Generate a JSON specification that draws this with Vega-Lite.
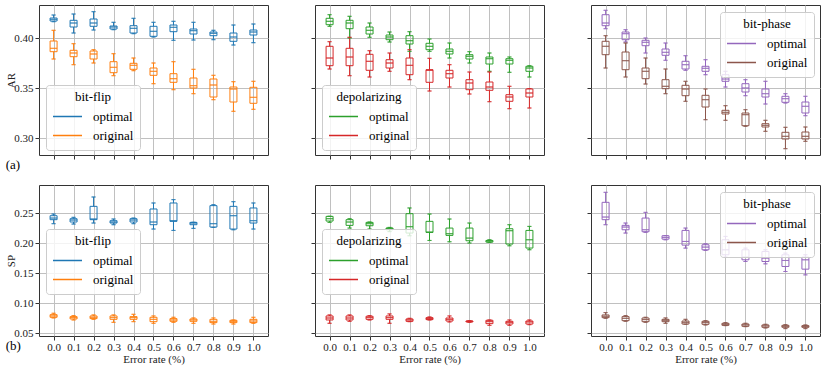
{
  "$schema": "https://vega.github.io/schema/vega-lite/v6.json",
  "padding": {"left": 5, "top": 4, "right": 5, "bottom": 5},
  "spacing": 12,
  "resolve": {"scale": {"stroke": "independent", "x": "independent", "y": "independent"}, "legend": {"stroke": "independent"}},
  "datasets": {
    "ar_bitflip": [
      {"series":"optimal","rate":0.0,"min":0.4163,"q1":0.417,"median":0.4187,"q3":0.420,"max":0.423},
      {"series":"optimal","rate":0.1,"min":0.405,"q1":0.411,"median":0.415,"q3":0.4177,"max":0.424},
      {"series":"optimal","rate":0.2,"min":0.408,"q1":0.4117,"median":0.415,"q3":0.419,"max":0.4263},
      {"series":"optimal","rate":0.3,"min":0.4083,"q1":0.409,"median":0.411,"q3":0.412,"max":0.4157},
      {"series":"optimal","rate":0.4,"min":0.4043,"q1":0.405,"median":0.4097,"q3":0.4123,"max":0.4197},
      {"series":"optimal","rate":0.5,"min":0.401,"q1":0.4017,"median":0.4067,"q3":0.4117,"max":0.4157},
      {"series":"optimal","rate":0.6,"min":0.3977,"q1":0.4063,"median":0.4107,"q3":0.413,"max":0.4167},
      {"series":"optimal","rate":0.7,"min":0.398,"q1":0.404,"median":0.4073,"q3":0.409,"max":0.4157},
      {"series":"optimal","rate":0.8,"min":0.3983,"q1":0.4023,"median":0.4047,"q3":0.406,"max":0.4077},
      {"series":"optimal","rate":0.9,"min":0.393,"q1":0.3967,"median":0.401,"q3":0.405,"max":0.413},
      {"series":"optimal","rate":1.0,"min":0.3953,"q1":0.403,"median":0.406,"q3":0.408,"max":0.414},
      {"series":"original","rate":0.0,"min":0.379,"q1":0.3863,"median":0.3897,"q3":0.397,"max":0.4077},
      {"series":"original","rate":0.1,"min":0.3733,"q1":0.3813,"median":0.385,"q3":0.3877,"max":0.3943},
      {"series":"original","rate":0.2,"min":0.375,"q1":0.379,"median":0.384,"q3":0.387,"max":0.3883},
      {"series":"original","rate":0.3,"min":0.3623,"q1":0.3653,"median":0.3707,"q3":0.3763,"max":0.3843},
      {"series":"original","rate":0.4,"min":0.3673,"q1":0.3687,"median":0.3727,"q3":0.3747,"max":0.38},
      {"series":"original","rate":0.5,"min":0.3543,"q1":0.3627,"median":0.3667,"q3":0.37,"max":0.375},
      {"series":"original","rate":0.6,"min":0.3483,"q1":0.3557,"median":0.3593,"q3":0.3643,"max":0.3763},
      {"series":"original","rate":0.7,"min":0.3443,"q1":0.35,"median":0.3523,"q3":0.36,"max":0.3687},
      {"series":"original","rate":0.8,"min":0.3383,"q1":0.341,"median":0.353,"q3":0.359,"max":0.3627},
      {"series":"original","rate":0.9,"min":0.3267,"q1":0.336,"median":0.349,"q3":0.351,"max":0.3563},
      {"series":"original","rate":1.0,"min":0.3287,"q1":0.3347,"median":0.3407,"q3":0.3507,"max":0.3567}
    ],
    "ar_depol": [
      {"series":"optimal","rate":0.0,"min":0.4117,"q1":0.4133,"median":0.4167,"q3":0.4197,"max":0.4233},
      {"series":"optimal","rate":0.1,"min":0.400,"q1":0.4093,"median":0.415,"q3":0.4177,"max":0.4217},
      {"series":"optimal","rate":0.2,"min":0.4007,"q1":0.404,"median":0.4077,"q3":0.411,"max":0.415},
      {"series":"optimal","rate":0.3,"min":0.396,"q1":0.3983,"median":0.401,"q3":0.403,"max":0.406},
      {"series":"optimal","rate":0.4,"min":0.3867,"q1":0.394,"median":0.3973,"q3":0.4023,"max":0.4063},
      {"series":"optimal","rate":0.5,"min":0.3867,"q1":0.3883,"median":0.3917,"q3":0.3947,"max":0.399},
      {"series":"optimal","rate":0.6,"min":0.38,"q1":0.384,"median":0.3867,"q3":0.389,"max":0.395},
      {"series":"optimal","rate":0.7,"min":0.375,"q1":0.379,"median":0.3817,"q3":0.3833,"max":0.3863},
      {"series":"optimal","rate":0.8,"min":0.3667,"q1":0.374,"median":0.3793,"q3":0.381,"max":0.385},
      {"series":"optimal","rate":0.9,"min":0.3657,"q1":0.374,"median":0.3777,"q3":0.3793,"max":0.381},
      {"series":"optimal","rate":1.0,"min":0.361,"q1":0.3667,"median":0.37,"q3":0.3717,"max":0.3723},
      {"series":"original","rate":0.0,"min":0.369,"q1":0.3723,"median":0.38,"q3":0.3917,"max":0.3963},
      {"series":"original","rate":0.1,"min":0.3623,"q1":0.3723,"median":0.381,"q3":0.3897,"max":0.4007},
      {"series":"original","rate":0.2,"min":0.361,"q1":0.3677,"median":0.3767,"q3":0.3837,"max":0.3873},
      {"series":"original","rate":0.3,"min":0.3667,"q1":0.37,"median":0.375,"q3":0.3783,"max":0.385},
      {"series":"original","rate":0.4,"min":0.3583,"q1":0.3633,"median":0.3727,"q3":0.38,"max":0.3883},
      {"series":"original","rate":0.5,"min":0.347,"q1":0.3557,"median":0.3677,"q3":0.3683,"max":0.3797},
      {"series":"original","rate":0.6,"min":0.351,"q1":0.36,"median":0.3643,"q3":0.3677,"max":0.3733},
      {"series":"original","rate":0.7,"min":0.344,"q1":0.3483,"median":0.355,"q3":0.3583,"max":0.366},
      {"series":"original","rate":0.8,"min":0.3363,"q1":0.3477,"median":0.351,"q3":0.356,"max":0.366},
      {"series":"original","rate":0.9,"min":0.3293,"q1":0.3367,"median":0.341,"q3":0.3433,"max":0.3517},
      {"series":"original","rate":1.0,"min":0.330,"q1":0.341,"median":0.345,"q3":0.349,"max":0.3495}
    ],
    "ar_bitphase": [
      {"series":"optimal","rate":0.0,"min":0.4093,"q1":0.4123,"median":0.415,"q3":0.4233,"max":0.4277},
      {"series":"optimal","rate":0.1,"min":0.396,"q1":0.3983,"median":0.4043,"q3":0.406,"max":0.4083},
      {"series":"optimal","rate":0.2,"min":0.385,"q1":0.3923,"median":0.3957,"q3":0.3977,"max":0.400},
      {"series":"optimal","rate":0.3,"min":0.3777,"q1":0.3827,"median":0.3857,"q3":0.389,"max":0.395},
      {"series":"optimal","rate":0.4,"min":0.3677,"q1":0.369,"median":0.3733,"q3":0.3767,"max":0.3823},
      {"series":"optimal","rate":0.5,"min":0.3633,"q1":0.3667,"median":0.3697,"q3":0.3717,"max":0.3783},
      {"series":"optimal","rate":0.6,"min":0.351,"q1":0.3567,"median":0.359,"q3":0.3633,"max":0.3667},
      {"series":"optimal","rate":0.7,"min":0.3423,"q1":0.346,"median":0.350,"q3":0.3543,"max":0.3583},
      {"series":"optimal","rate":0.8,"min":0.334,"q1":0.341,"median":0.3443,"q3":0.349,"max":0.3567},
      {"series":"optimal","rate":0.9,"min":0.335,"q1":0.3357,"median":0.3393,"q3":0.3417,"max":0.3443},
      {"series":"optimal","rate":1.0,"min":0.3223,"q1":0.325,"median":0.3317,"q3":0.336,"max":0.3417},
      {"series":"original","rate":0.0,"min":0.370,"q1":0.3833,"median":0.3917,"q3":0.3967,"max":0.4023},
      {"series":"original","rate":0.1,"min":0.361,"q1":0.3683,"median":0.3773,"q3":0.386,"max":0.395},
      {"series":"original","rate":0.2,"min":0.354,"q1":0.3593,"median":0.3667,"q3":0.370,"max":0.380},
      {"series":"original","rate":0.3,"min":0.3443,"q1":0.3493,"median":0.3517,"q3":0.3583,"max":0.369},
      {"series":"original","rate":0.4,"min":0.3367,"q1":0.3423,"median":0.349,"q3":0.3527,"max":0.3567},
      {"series":"original","rate":0.5,"min":0.3183,"q1":0.331,"median":0.3383,"q3":0.3427,"max":0.349},
      {"series":"original","rate":0.6,"min":0.3177,"q1":0.324,"median":0.3257,"q3":0.3277,"max":0.3323},
      {"series":"original","rate":0.7,"min":0.3117,"q1":0.3123,"median":0.3233,"q3":0.325,"max":0.3283},
      {"series":"original","rate":0.8,"min":0.3067,"q1":0.311,"median":0.3127,"q3":0.3143,"max":0.3177},
      {"series":"original","rate":0.9,"min":0.2893,"q1":0.299,"median":0.3017,"q3":0.3057,"max":0.3107},
      {"series":"original","rate":1.0,"min":0.2967,"q1":0.299,"median":0.3017,"q3":0.306,"max":0.311}
    ],
    "sp_bitflip": [
      {"series":"optimal","rate":0.0,"min":0.2322,"q1":0.2389,"median":0.2416,"q3":0.2455,"max":0.2483},
      {"series":"optimal","rate":0.1,"min":0.2316,"q1":0.235,"median":0.2383,"q3":0.2405,"max":0.2428},
      {"series":"optimal","rate":0.2,"min":0.2333,"q1":0.2389,"median":0.240,"q3":0.2611,"max":0.2767},
      {"series":"optimal","rate":0.3,"min":0.2305,"q1":0.2333,"median":0.235,"q3":0.2372,"max":0.240},
      {"series":"optimal","rate":0.4,"min":0.2322,"q1":0.235,"median":0.2383,"q3":0.2405,"max":0.2416},
      {"series":"optimal","rate":0.5,"min":0.2233,"q1":0.2305,"median":0.235,"q3":0.2567,"max":0.2667},
      {"series":"optimal","rate":0.6,"min":0.221,"q1":0.2361,"median":0.2372,"q3":0.2667,"max":0.2723},
      {"series":"optimal","rate":0.7,"min":0.2244,"q1":0.2305,"median":0.2333,"q3":0.2344,"max":0.2346},
      {"series":"optimal","rate":0.8,"min":0.226,"q1":0.2266,"median":0.2322,"q3":0.2623,"max":0.2639},
      {"series":"optimal","rate":0.9,"min":0.2221,"q1":0.2233,"median":0.2455,"q3":0.2611,"max":0.2689},
      {"series":"optimal","rate":1.0,"min":0.2233,"q1":0.2333,"median":0.2372,"q3":0.2584,"max":0.2667},
      {"series":"original","rate":0.0,"min":0.0751,"q1":0.0762,"median":0.0784,"q3":0.0806,"max":0.0829},
      {"series":"original","rate":0.1,"min":0.0717,"q1":0.0734,"median":0.0756,"q3":0.0773,"max":0.079},
      {"series":"original","rate":0.2,"min":0.0728,"q1":0.074,"median":0.0762,"q3":0.0784,"max":0.0801},
      {"series":"original","rate":0.3,"min":0.0678,"q1":0.0728,"median":0.0756,"q3":0.0784,"max":0.0801},
      {"series":"original","rate":0.4,"min":0.0689,"q1":0.0728,"median":0.0756,"q3":0.0773,"max":0.0812},
      {"series":"original","rate":0.5,"min":0.0662,"q1":0.0689,"median":0.0728,"q3":0.0762,"max":0.0784},
      {"series":"original","rate":0.6,"min":0.0678,"q1":0.0695,"median":0.0717,"q3":0.074,"max":0.0762},
      {"series":"original","rate":0.7,"min":0.0662,"q1":0.0695,"median":0.0717,"q3":0.0734,"max":0.0751},
      {"series":"original","rate":0.8,"min":0.065,"q1":0.0673,"median":0.0695,"q3":0.0728,"max":0.0751},
      {"series":"original","rate":0.9,"min":0.065,"q1":0.0673,"median":0.0695,"q3":0.0712,"max":0.0717},
      {"series":"original","rate":1.0,"min":0.0662,"q1":0.0673,"median":0.070,"q3":0.0728,"max":0.0762}
    ],
    "sp_depol": [
      {"series":"optimal","rate":0.0,"min":0.2344,"q1":0.2366,"median":0.2405,"q3":0.2444,"max":0.2446},
      {"series":"optimal","rate":0.1,"min":0.2249,"q1":0.2294,"median":0.235,"q3":0.2389,"max":0.2405},
      {"series":"optimal","rate":0.2,"min":0.2233,"q1":0.2288,"median":0.2322,"q3":0.2344,"max":0.235},
      {"series":"optimal","rate":0.3,"min":0.219,"q1":0.2221,"median":0.2244,"q3":0.2249,"max":0.226},
      {"series":"optimal","rate":0.4,"min":0.2121,"q1":0.2166,"median":0.2272,"q3":0.2489,"max":0.2584},
      {"series":"optimal","rate":0.5,"min":0.2043,"q1":0.2177,"median":0.2182,"q3":0.2361,"max":0.2483},
      {"series":"optimal","rate":0.6,"min":0.2021,"q1":0.2127,"median":0.2155,"q3":0.2249,"max":0.240},
      {"series":"optimal","rate":0.7,"min":0.200,"q1":0.2038,"median":0.2082,"q3":0.2249,"max":0.2333},
      {"series":"optimal","rate":0.8,"min":0.201,"q1":0.2015,"median":0.2032,"q3":0.2043,"max":0.2054},
      {"series":"optimal","rate":0.9,"min":0.1954,"q1":0.1982,"median":0.2205,"q3":0.2238,"max":0.2305},
      {"series":"optimal","rate":1.0,"min":0.1888,"q1":0.1916,"median":0.2054,"q3":0.221,"max":0.2277},
      {"series":"original","rate":0.0,"min":0.0662,"q1":0.0717,"median":0.075,"q3":0.0784,"max":0.0801},
      {"series":"original","rate":0.1,"min":0.0695,"q1":0.0717,"median":0.075,"q3":0.0784,"max":0.0801},
      {"series":"original","rate":0.2,"min":0.0717,"q1":0.0728,"median":0.0756,"q3":0.0779,"max":0.079},
      {"series":"original","rate":0.3,"min":0.0662,"q1":0.0728,"median":0.0756,"q3":0.0784,"max":0.0818},
      {"series":"original","rate":0.4,"min":0.0689,"q1":0.0695,"median":0.0717,"q3":0.0734,"max":0.0745},
      {"series":"original","rate":0.5,"min":0.0717,"q1":0.0723,"median":0.074,"q3":0.0756,"max":0.0767},
      {"series":"original","rate":0.6,"min":0.0684,"q1":0.070,"median":0.0728,"q3":0.075,"max":0.0784},
      {"series":"original","rate":0.7,"min":0.0678,"q1":0.0684,"median":0.0695,"q3":0.070,"max":0.0706},
      {"series":"original","rate":0.8,"min":0.0628,"q1":0.0656,"median":0.0689,"q3":0.0712,"max":0.0717},
      {"series":"original","rate":0.9,"min":0.0628,"q1":0.065,"median":0.0678,"q3":0.0695,"max":0.0717},
      {"series":"original","rate":1.0,"min":0.0639,"q1":0.065,"median":0.0684,"q3":0.070,"max":0.0717}
    ],
    "sp_bitphase": [
      {"series":"optimal","rate":0.0,"min":0.2305,"q1":0.2389,"median":0.2433,"q3":0.2678,"max":0.2845},
      {"series":"optimal","rate":0.1,"min":0.2166,"q1":0.2221,"median":0.2266,"q3":0.2294,"max":0.2333},
      {"series":"optimal","rate":0.2,"min":0.2177,"q1":0.2188,"median":0.2221,"q3":0.2416,"max":0.2511},
      {"series":"optimal","rate":0.3,"min":0.2054,"q1":0.2065,"median":0.2093,"q3":0.2121,"max":0.2123},
      {"series":"optimal","rate":0.4,"min":0.1915,"q1":0.1965,"median":0.2026,"q3":0.221,"max":0.2249},
      {"series":"optimal","rate":0.5,"min":0.1876,"q1":0.1887,"median":0.1932,"q3":0.1971,"max":0.1988},
      {"series":"optimal","rate":0.6,"min":0.1765,"q1":0.1804,"median":0.1887,"q3":0.2054,"max":0.211},
      {"series":"optimal","rate":0.7,"min":0.1692,"q1":0.172,"median":0.1765,"q3":0.1887,"max":0.1915},
      {"series":"optimal","rate":0.8,"min":0.1653,"q1":0.1692,"median":0.1748,"q3":0.1859,"max":0.1887},
      {"series":"optimal","rate":0.9,"min":0.1525,"q1":0.1609,"median":0.1709,"q3":0.1804,"max":0.1831},
      {"series":"optimal","rate":1.0,"min":0.1469,"q1":0.1564,"median":0.172,"q3":0.1765,"max":0.1804},
      {"series":"original","rate":0.0,"min":0.0745,"q1":0.0756,"median":0.0779,"q3":0.0801,"max":0.084},
      {"series":"original","rate":0.1,"min":0.0695,"q1":0.0706,"median":0.0745,"q3":0.0773,"max":0.079},
      {"series":"original","rate":0.2,"min":0.0678,"q1":0.0689,"median":0.0723,"q3":0.075,"max":0.0762},
      {"series":"original","rate":0.3,"min":0.0662,"q1":0.0689,"median":0.0712,"q3":0.0728,"max":0.0751},
      {"series":"original","rate":0.4,"min":0.0645,"q1":0.065,"median":0.0678,"q3":0.070,"max":0.0728},
      {"series":"original","rate":0.5,"min":0.0634,"q1":0.0645,"median":0.0673,"q3":0.0695,"max":0.0706},
      {"series":"original","rate":0.6,"min":0.0623,"q1":0.0628,"median":0.0645,"q3":0.0662,"max":0.0673},
      {"series":"original","rate":0.7,"min":0.0606,"q1":0.0612,"median":0.0634,"q3":0.065,"max":0.0662},
      {"series":"original","rate":0.8,"min":0.0584,"q1":0.0595,"median":0.0617,"q3":0.0634,"max":0.0645},
      {"series":"original","rate":0.9,"min":0.0573,"q1":0.0595,"median":0.0612,"q3":0.0628,"max":0.0639},
      {"series":"original","rate":1.0,"min":0.0573,"q1":0.0595,"median":0.0606,"q3":0.0623,"max":0.0634}
    ]
  },
  "vconcat": [
    {
      "hconcat": [
        {
          "width": 229, "height": 150,
          "data": {"name": "ar_bitflip"},
          "title": {"text": "(a)", "orient": "bottom", "anchor": "start", "offset": -1, "fontSize": 13, "fontWeight": "normal", "font": "Liberation Serif", "color": "#000"},
          "encoding": {
            "x": {"field": "rate", "type": "quantitative", "scale": {"domain": [-0.048, 1.048], "nice": false, "zero": false}, "axis": {"values": [0,0.1,0.2,0.3,0.4,0.5,0.6,0.7,0.8,0.9,1], "tickCount": 20, "labels": false, "title": null}},
            "stroke": {"field": "series", "type": "nominal", "scale": {"domain": ["optimal","original"], "range": ["#1f77b4","#ff7f0e"]}, "legend": {"title": "bit-flip", "orient": "none", "legendX": 7, "legendY": 80}}
          },
          "layer": [
            {"mark": {"type": "rule", "strokeWidth": 1}, "encoding": {"y": {"field": "min", "type": "quantitative", "scale": {"domain": [0.283, 0.433], "nice": false, "zero": false}, "axis": {"values": [0.30, 0.35, 0.40], "tickCount": 20, "format": ".2f", "title": "AR", "labelOverlap": false}}, "y2": {"field": "q1"}}},
            {"mark": {"type": "rule", "strokeWidth": 1}, "encoding": {"y": {"field": "q3", "type": "quantitative"}, "y2": {"field": "max"}}},
            {"mark": {"type": "bar", "filled": false, "size": 7, "strokeWidth": 1}, "encoding": {"y": {"field": "q1", "type": "quantitative"}, "y2": {"field": "q3"}}},
            {"mark": {"type": "tick", "orient": "horizontal", "size": 7, "thickness": 0, "filled": false, "strokeWidth": 1}, "encoding": {"y": {"field": "median", "type": "quantitative"}}},
            {"mark": {"type": "tick", "orient": "horizontal", "size": 4, "thickness": 0, "filled": false, "strokeWidth": 1}, "encoding": {"y": {"field": "min", "type": "quantitative"}}},
            {"mark": {"type": "tick", "orient": "horizontal", "size": 4, "thickness": 0, "filled": false, "strokeWidth": 1}, "encoding": {"y": {"field": "max", "type": "quantitative"}}}
          ]
        },
        {
          "width": 229, "height": 150,
          "data": {"name": "ar_depol"},
          "encoding": {
            "x": {"field": "rate", "type": "quantitative", "scale": {"domain": [-0.048, 1.048], "nice": false, "zero": false}, "axis": {"values": [0,0.1,0.2,0.3,0.4,0.5,0.6,0.7,0.8,0.9,1], "tickCount": 20, "labels": false, "title": null}},
            "stroke": {"field": "series", "type": "nominal", "scale": {"domain": ["optimal","original"], "range": ["#2ca02c","#d62728"]}, "legend": {"title": "depolarizing", "orient": "none", "legendX": 7, "legendY": 80}}
          },
          "layer": [
            {"mark": {"type": "rule", "strokeWidth": 1}, "encoding": {"y": {"field": "min", "type": "quantitative", "scale": {"domain": [0.283, 0.433], "nice": false, "zero": false}, "axis": {"values": [0.30, 0.35, 0.40], "tickCount": 20, "labels": false, "title": null}}, "y2": {"field": "q1"}}},
            {"mark": {"type": "rule", "strokeWidth": 1}, "encoding": {"y": {"field": "q3", "type": "quantitative"}, "y2": {"field": "max"}}},
            {"mark": {"type": "bar", "filled": false, "size": 7, "strokeWidth": 1}, "encoding": {"y": {"field": "q1", "type": "quantitative"}, "y2": {"field": "q3"}}},
            {"mark": {"type": "tick", "orient": "horizontal", "size": 7, "thickness": 0, "filled": false, "strokeWidth": 1}, "encoding": {"y": {"field": "median", "type": "quantitative"}}},
            {"mark": {"type": "tick", "orient": "horizontal", "size": 4, "thickness": 0, "filled": false, "strokeWidth": 1}, "encoding": {"y": {"field": "min", "type": "quantitative"}}},
            {"mark": {"type": "tick", "orient": "horizontal", "size": 4, "thickness": 0, "filled": false, "strokeWidth": 1}, "encoding": {"y": {"field": "max", "type": "quantitative"}}}
          ]
        },
        {
          "width": 229, "height": 150,
          "data": {"name": "ar_bitphase"},
          "encoding": {
            "x": {"field": "rate", "type": "quantitative", "scale": {"domain": [-0.048, 1.048], "nice": false, "zero": false}, "axis": {"values": [0,0.1,0.2,0.3,0.4,0.5,0.6,0.7,0.8,0.9,1], "tickCount": 20, "labels": false, "title": null}},
            "stroke": {"field": "series", "type": "nominal", "scale": {"domain": ["optimal","original"], "range": ["#9467bd","#8c564b"]}, "legend": {"title": "bit-phase", "orient": "none", "legendX": 129, "legendY": 7}}
          },
          "layer": [
            {"mark": {"type": "rule", "strokeWidth": 1}, "encoding": {"y": {"field": "min", "type": "quantitative", "scale": {"domain": [0.283, 0.433], "nice": false, "zero": false}, "axis": {"values": [0.30, 0.35, 0.40], "tickCount": 20, "labels": false, "title": null}}, "y2": {"field": "q1"}}},
            {"mark": {"type": "rule", "strokeWidth": 1}, "encoding": {"y": {"field": "q3", "type": "quantitative"}, "y2": {"field": "max"}}},
            {"mark": {"type": "bar", "filled": false, "size": 7, "strokeWidth": 1}, "encoding": {"y": {"field": "q1", "type": "quantitative"}, "y2": {"field": "q3"}}},
            {"mark": {"type": "tick", "orient": "horizontal", "size": 7, "thickness": 0, "filled": false, "strokeWidth": 1}, "encoding": {"y": {"field": "median", "type": "quantitative"}}},
            {"mark": {"type": "tick", "orient": "horizontal", "size": 4, "thickness": 0, "filled": false, "strokeWidth": 1}, "encoding": {"y": {"field": "min", "type": "quantitative"}}},
            {"mark": {"type": "tick", "orient": "horizontal", "size": 4, "thickness": 0, "filled": false, "strokeWidth": 1}, "encoding": {"y": {"field": "max", "type": "quantitative"}}}
          ]
        }
      ],
      "spacing": 47,
      "bounds": "flush",
      "resolve": {"scale": {"stroke": "independent", "x": "independent", "y": "independent"}, "legend": {"stroke": "independent"}}
    },
    {
      "hconcat": [
        {
          "width": 229, "height": 151,
          "data": {"name": "sp_bitflip"},
          "title": {"text": "(b)", "orient": "bottom", "anchor": "start", "offset": -24, "fontSize": 13, "fontWeight": "normal", "font": "Liberation Serif", "color": "#000"},
          "encoding": {
            "x": {"field": "rate", "type": "quantitative", "scale": {"domain": [-0.048, 1.048], "nice": false, "zero": false}, "axis": {"values": [0,0.1,0.2,0.3,0.4,0.5,0.6,0.7,0.8,0.9,1], "tickCount": 20, "format": ".1f", "title": "Error rate (%)", "labelOverlap": false}},
            "stroke": {"field": "series", "type": "nominal", "scale": {"domain": ["optimal","original"], "range": ["#1f77b4","#ff7f0e"]}, "legend": {"title": "bit-flip", "orient": "none", "legendX": 7, "legendY": 44}}
          },
          "layer": [
            {"mark": {"type": "rule", "strokeWidth": 1}, "encoding": {"y": {"field": "min", "type": "quantitative", "scale": {"domain": [0.045, 0.2967], "nice": false, "zero": false}, "axis": {"values": [0.05, 0.1, 0.15, 0.2, 0.25], "tickCount": 20, "format": ".2f", "title": "SP", "labelOverlap": false}}, "y2": {"field": "q1"}}},
            {"mark": {"type": "rule", "strokeWidth": 1}, "encoding": {"y": {"field": "q3", "type": "quantitative"}, "y2": {"field": "max"}}},
            {"mark": {"type": "bar", "filled": false, "size": 7, "strokeWidth": 1}, "encoding": {"y": {"field": "q1", "type": "quantitative"}, "y2": {"field": "q3"}}},
            {"mark": {"type": "tick", "orient": "horizontal", "size": 7, "thickness": 0, "filled": false, "strokeWidth": 1}, "encoding": {"y": {"field": "median", "type": "quantitative"}}},
            {"mark": {"type": "tick", "orient": "horizontal", "size": 4, "thickness": 0, "filled": false, "strokeWidth": 1}, "encoding": {"y": {"field": "min", "type": "quantitative"}}},
            {"mark": {"type": "tick", "orient": "horizontal", "size": 4, "thickness": 0, "filled": false, "strokeWidth": 1}, "encoding": {"y": {"field": "max", "type": "quantitative"}}}
          ]
        },
        {
          "width": 229, "height": 151,
          "data": {"name": "sp_depol"},
          "encoding": {
            "x": {"field": "rate", "type": "quantitative", "scale": {"domain": [-0.048, 1.048], "nice": false, "zero": false}, "axis": {"values": [0,0.1,0.2,0.3,0.4,0.5,0.6,0.7,0.8,0.9,1], "tickCount": 20, "format": ".1f", "title": "Error rate (%)", "labelOverlap": false}},
            "stroke": {"field": "series", "type": "nominal", "scale": {"domain": ["optimal","original"], "range": ["#2ca02c","#d62728"]}, "legend": {"title": "depolarizing", "orient": "none", "legendX": 7, "legendY": 44}}
          },
          "layer": [
            {"mark": {"type": "rule", "strokeWidth": 1}, "encoding": {"y": {"field": "min", "type": "quantitative", "scale": {"domain": [0.045, 0.2967], "nice": false, "zero": false}, "axis": {"values": [0.05, 0.1, 0.15, 0.2, 0.25], "tickCount": 20, "labels": false, "title": null}}, "y2": {"field": "q1"}}},
            {"mark": {"type": "rule", "strokeWidth": 1}, "encoding": {"y": {"field": "q3", "type": "quantitative"}, "y2": {"field": "max"}}},
            {"mark": {"type": "bar", "filled": false, "size": 7, "strokeWidth": 1}, "encoding": {"y": {"field": "q1", "type": "quantitative"}, "y2": {"field": "q3"}}},
            {"mark": {"type": "tick", "orient": "horizontal", "size": 7, "thickness": 0, "filled": false, "strokeWidth": 1}, "encoding": {"y": {"field": "median", "type": "quantitative"}}},
            {"mark": {"type": "tick", "orient": "horizontal", "size": 4, "thickness": 0, "filled": false, "strokeWidth": 1}, "encoding": {"y": {"field": "min", "type": "quantitative"}}},
            {"mark": {"type": "tick", "orient": "horizontal", "size": 4, "thickness": 0, "filled": false, "strokeWidth": 1}, "encoding": {"y": {"field": "max", "type": "quantitative"}}}
          ]
        },
        {
          "width": 229, "height": 151,
          "data": {"name": "sp_bitphase"},
          "encoding": {
            "x": {"field": "rate", "type": "quantitative", "scale": {"domain": [-0.048, 1.048], "nice": false, "zero": false}, "axis": {"values": [0,0.1,0.2,0.3,0.4,0.5,0.6,0.7,0.8,0.9,1], "tickCount": 20, "format": ".1f", "title": "Error rate (%)", "labelOverlap": false}},
            "stroke": {"field": "series", "type": "nominal", "scale": {"domain": ["optimal","original"], "range": ["#9467bd","#8c564b"]}, "legend": {"title": "bit-phase", "orient": "none", "legendX": 129, "legendY": 7}}
          },
          "layer": [
            {"mark": {"type": "rule", "strokeWidth": 1}, "encoding": {"y": {"field": "min", "type": "quantitative", "scale": {"domain": [0.045, 0.2967], "nice": false, "zero": false}, "axis": {"values": [0.05, 0.1, 0.15, 0.2, 0.25], "tickCount": 20, "labels": false, "title": null}}, "y2": {"field": "q1"}}},
            {"mark": {"type": "rule", "strokeWidth": 1}, "encoding": {"y": {"field": "q3", "type": "quantitative"}, "y2": {"field": "max"}}},
            {"mark": {"type": "bar", "filled": false, "size": 7, "strokeWidth": 1}, "encoding": {"y": {"field": "q1", "type": "quantitative"}, "y2": {"field": "q3"}}},
            {"mark": {"type": "tick", "orient": "horizontal", "size": 7, "thickness": 0, "filled": false, "strokeWidth": 1}, "encoding": {"y": {"field": "median", "type": "quantitative"}}},
            {"mark": {"type": "tick", "orient": "horizontal", "size": 4, "thickness": 0, "filled": false, "strokeWidth": 1}, "encoding": {"y": {"field": "min", "type": "quantitative"}}},
            {"mark": {"type": "tick", "orient": "horizontal", "size": 4, "thickness": 0, "filled": false, "strokeWidth": 1}, "encoding": {"y": {"field": "max", "type": "quantitative"}}}
          ]
        }
      ],
      "spacing": 47,
      "bounds": "flush",
      "resolve": {"scale": {"stroke": "independent", "x": "independent", "y": "independent"}, "legend": {"stroke": "independent"}}
    }
  ],
  "config": {
    "font": "Liberation Serif",
    "view": {"stroke": "#333333", "strokeWidth": 1},
    "axis": {
      "labelFont": "Liberation Serif", "labelFontSize": 11, "labelColor": "#222222", "labelOverlap": false,
      "titleFont": "Liberation Serif", "titleFontSize": 11, "titleFontWeight": "normal", "titleColor": "#222222",
      "grid": true, "gridColor": "#c0c0c0", "gridWidth": 1,
      "domain": false, "tickColor": "#333333", "tickSize": 4, "labelPadding": 2, "titlePadding": 2
    },
    "axisX": {"labelPadding": 1, "titlePadding": 1},
    "axisY": {"titlePadding": -3},
    "legend": {
      "labelFont": "Liberation Serif", "labelFontSize": 13, "labelColor": "#000000",
      "titleFont": "Liberation Serif", "titleFontSize": 13, "titleFontWeight": "normal", "titleColor": "#000000",
      "titleAnchor": "middle", "titlePadding": 4,
      "symbolType": "stroke", "symbolSize": 841, "symbolStrokeWidth": 1.5,
      "clipHeight": 17, "rowPadding": 2, "labelOffset": 10,
      "fillColor": "rgba(255,255,255,0.8)", "strokeColor": "#cccccc", "cornerRadius": 3, "padding": 6
    }
  }
}
